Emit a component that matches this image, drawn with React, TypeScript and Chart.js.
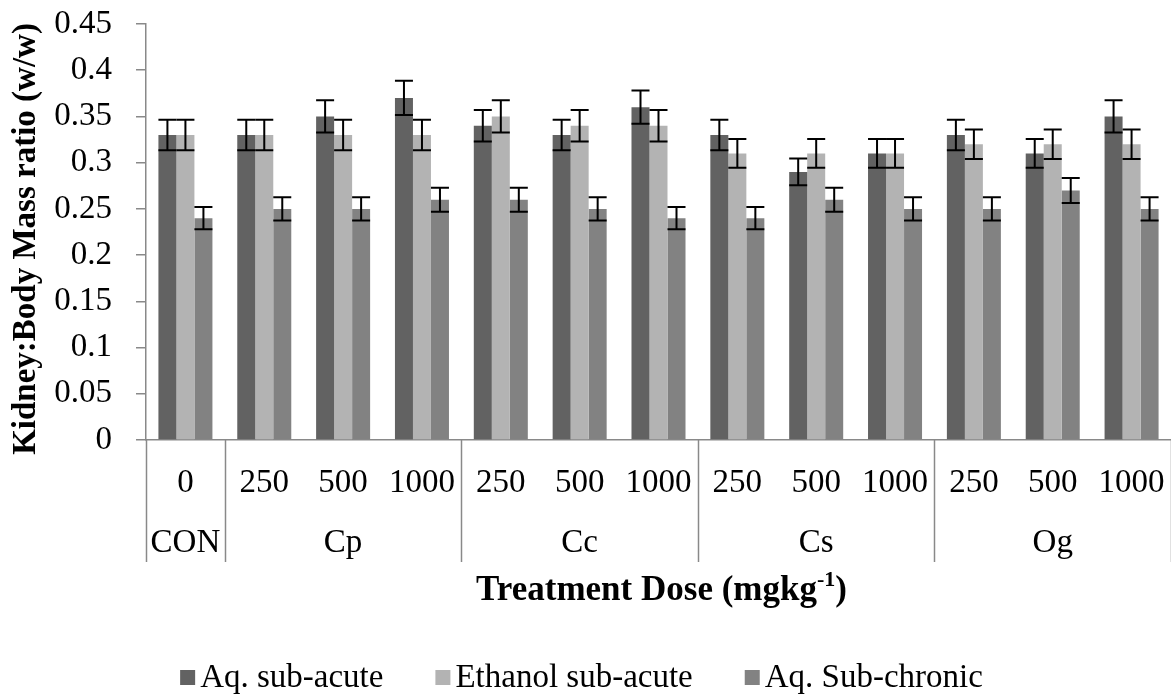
import React, { useEffect, useRef } from "react";
import { Chart, registerables } from "chart.js";

Chart.register(...registerables);

const doseLabels = ["0", "250", "500", "1000", "250", "500", "1000", "250", "500", "1000", "250", "500", "1000"];
const groupNames = ["CON", "Cp", "Cc", "Cs", "Og"];
const groupSizes = [1, 3, 3, 3, 3];

const aqSubAcute = [0.33, 0.33, 0.35, 0.37, 0.34, 0.33, 0.36, 0.33, 0.29, 0.31, 0.33, 0.31, 0.35];
const aqSubAcuteErr = [0.0165, 0.0165, 0.0175, 0.0185, 0.017, 0.0165, 0.018, 0.0165, 0.0145, 0.0155, 0.0165, 0.0155, 0.0175];
const ethSubAcute = [0.33, 0.33, 0.33, 0.33, 0.35, 0.34, 0.34, 0.31, 0.31, 0.31, 0.32, 0.32, 0.32];
const ethSubAcuteErr = [0.0165, 0.0165, 0.0165, 0.0165, 0.0175, 0.017, 0.017, 0.0155, 0.0155, 0.0155, 0.016, 0.016, 0.016];
const aqSubChronic = [0.24, 0.25, 0.25, 0.26, 0.26, 0.25, 0.24, 0.24, 0.26, 0.25, 0.25, 0.27, 0.25];
const aqSubChronicErr = [0.012, 0.0125, 0.0125, 0.013, 0.013, 0.0125, 0.012, 0.012, 0.013, 0.0125, 0.0125, 0.0135, 0.0125];

const seriesNames = ["Aq. sub-acute", "Ethanol sub-acute", "Aq. Sub-chronic"];
const seriesColors = ["#626262", "#b3b3b3", "#828282"];
const yTitle = "Kidney:Body Mass ratio (w/w)";
const xTitleMain = "Treatment Dose (mgkg";
const xTitleSup = "-1";
const xTitleEnd = ")";

const W = 1171;
const H = 695;
const FONT = "'Liberation Serif', 'Times New Roman', serif";
const AXIS = "#898989";

const errors = [aqSubAcuteErr, ethSubAcuteErr, aqSubChronicErr];

const overlay = {
  id: "overlay",
  afterDatasetsDraw(chart: any) {
    const ctx = chart.ctx;
    const y = chart.scales.y;
    ctx.save();
    ctx.strokeStyle = "#000";
    ctx.lineWidth = 2;
    chart.data.datasets.forEach((ds: any, di: number) => {
      const meta = chart.getDatasetMeta(di);
      meta.data.forEach((bar: any, i: number) => {
        const v = ds.data[i];
        const e = errors[di][i];
        const top = y.getPixelForValue(v + e);
        const bot = y.getPixelForValue(v - e);
        const x = bar.x;
        const hw = bar.width / 2;
        ctx.beginPath();
        ctx.moveTo(x, top);
        ctx.lineTo(x, bot);
        ctx.moveTo(x - hw, top);
        ctx.lineTo(x + hw, top);
        ctx.moveTo(x - hw, bot);
        ctx.lineTo(x + hw, bot);
        ctx.stroke();
      });
    });
    ctx.restore();
  },
  afterDraw(chart: any) {
    const ctx = chart.ctx;
    const xs = chart.scales.x;
    const area = chart.chartArea;
    const n = doseLabels.length;
    const cw = (area.right - area.left) / n;
    ctx.save();

    // separators
    ctx.strokeStyle = AXIS;
    ctx.lineWidth = 1.5;
    let idx = 0;
    const bounds = [0];
    groupSizes.forEach((s) => {
      idx += s;
      bounds.push(idx);
    });
    bounds.forEach((b) => {
      const x = Math.round(area.left + b * cw) + 0.5;
      ctx.beginPath();
      ctx.moveTo(x, area.bottom);
      ctx.lineTo(x, 562);
      ctx.stroke();
    });

    // dose labels
    ctx.fillStyle = "#000";
    ctx.font = `33px ${FONT}`;
    ctx.textAlign = "center";
    ctx.textBaseline = "alphabetic";
    doseLabels.forEach((lab, i) => {
      ctx.fillText(lab, xs.getPixelForValue(i), 492);
    });

    // group labels
    let start = 0;
    groupNames.forEach((g, gi) => {
      const s = groupSizes[gi];
      const cx = area.left + (start + s / 2) * cw;
      ctx.fillText(g, cx, 552);
      start += s;
    });

    // x title
    const fMain = `bold 35px ${FONT}`;
    const fSup = `bold 22px ${FONT}`;
    ctx.font = fMain;
    const w1 = ctx.measureText(xTitleMain).width;
    const w3 = ctx.measureText(xTitleEnd).width;
    ctx.font = fSup;
    const w2 = ctx.measureText(xTitleSup).width;
    const total = w1 + w2 + w3;
    let tx = (area.left + area.right) / 2 - total / 2 + 3;
    ctx.textAlign = "left";
    ctx.font = fMain;
    ctx.fillText(xTitleMain, tx, 600);
    tx += w1;
    ctx.font = fSup;
    ctx.fillText(xTitleSup, tx, 586);
    tx += w2;
    ctx.font = fMain;
    ctx.fillText(xTitleEnd, tx, 600);

    // y title
    ctx.save();
    ctx.translate(26, 239);
    ctx.rotate(-Math.PI / 2);
    ctx.textAlign = "center";
    ctx.textBaseline = "middle";
    ctx.font = `bold 33px ${FONT}`;
    ctx.fillText(yTitle, 0, 0);
    ctx.restore();

    // legend
    ctx.font = `33px ${FONT}`;
    const box = 15;
    const gap = 5;
    const itemGap = 52;
    const widths = seriesNames.map((s) => ctx.measureText(s).width);
    const totalW = widths.reduce((a, w) => a + box + gap + w, 0) + itemGap * (seriesNames.length - 1);
    let lx = W / 2 - totalW / 2 - 4;
    ctx.textAlign = "left";
    seriesNames.forEach((s, i) => {
      ctx.fillStyle = seriesColors[i];
      ctx.fillRect(lx, 670, box, box);
      ctx.fillStyle = "#000";
      ctx.fillText(s, lx + box + gap, 687);
      lx += box + gap + widths[i] + itemGap;
    });

    ctx.restore();
  },
};

export default function App() {
  const ref = useRef<HTMLCanvasElement | null>(null);
  useEffect(() => {
    if (!ref.current) return;
    const chart = new Chart(ref.current, {
      type: "bar",
      data: {
        labels: doseLabels,
        datasets: [
          { label: seriesNames[0], data: aqSubAcute, backgroundColor: seriesColors[0] },
          { label: seriesNames[1], data: ethSubAcute, backgroundColor: seriesColors[1] },
          { label: seriesNames[2], data: aqSubChronic, backgroundColor: seriesColors[2] },
        ],
      },
      options: {
        responsive: false,
        animation: false,
        layout: { padding: { top: 24, right: 0, bottom: 0, left: 0 } },
        datasets: { bar: { categoryPercentage: 0.685, barPercentage: 1.0 } },
        plugins: { legend: { display: false }, tooltip: { enabled: false }, title: { display: false } },
        scales: {
          x: {
            ticks: { display: false },
            grid: { display: false },
            border: { display: true, color: AXIS, width: 1.5 },
            afterFit: (s: any) => {
              s.height = 255;
            },
          },
          y: {
            min: 0,
            max: 0.45,
            ticks: {
              stepSize: 0.05,
              color: "#000",
              padding: 24,
              font: { family: FONT, size: 33 },
              callback: (v: any) => String(Number(Number(v).toFixed(2))),
            },
            grid: { display: true, drawOnChartArea: false, drawTicks: true, tickLength: 10, color: AXIS, lineWidth: 1.5 },
            border: { display: true, color: AXIS, width: 1.5 },
            afterFit: (s: any) => {
              s.width = 146;
              s.paddingTop = 0;
              s.paddingBottom = 0;
            },
          },
        },
      },
      plugins: [overlay],
    });
    return () => chart.destroy();
  }, []);
  return (
    <div style={{ position: "absolute", left: 0, top: 0, width: W, height: H, background: "#fff" }}>
      <canvas ref={ref} width={W} height={H} style={{ width: W, height: H, display: "block" }} />
    </div>
  );
}
